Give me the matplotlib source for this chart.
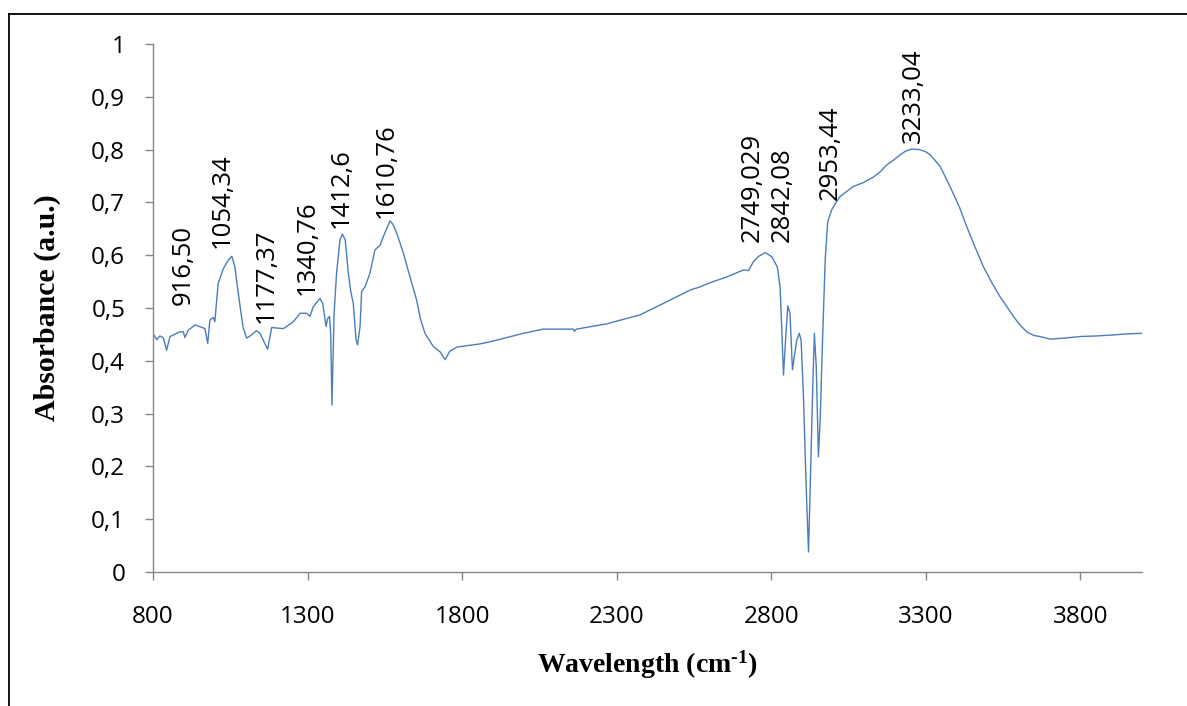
import numpy as np
import matplotlib
matplotlib.use('Agg')
import matplotlib.pyplot as plt
from matplotlib.lines import Line2D

# spectrum
wavenumber = [800, 812, 822, 833, 844, 855, 887, 898, 903, 914, 936, 968, 977, 984, 995,
              1000, 1011, 1028, 1044, 1055, 1065, 1072, 1082, 1092, 1103, 1119, 1135, 1146,
              1162, 1171, 1184, 1222, 1254, 1276, 1297, 1308, 1318, 1340, 1349, 1360, 1365,
              1371, 1375, 1379, 1386, 1394, 1405, 1413, 1422, 1432, 1440, 1448, 1457, 1462,
              1470, 1475, 1486, 1502, 1518, 1535, 1545, 1567, 1578, 1592, 1610, 1630, 1653,
              1665, 1680, 1707, 1729, 1745, 1760, 1783, 1858, 1891, 1998, 2063, 2160, 2164,
              2170, 2268, 2376, 2473, 2538, 2570, 2603, 2657, 2710, 2727, 2743, 2760, 2781,
              2802, 2820, 2829, 2835, 2840, 2848, 2854, 2861, 2869, 2875, 2883, 2891, 2897,
              2905, 2913, 2921, 2928, 2935, 2940, 2946, 2953, 2959, 2967, 2975, 2983, 2996,
              3010, 3023, 3045, 3066, 3100, 3131, 3153, 3174, 3196, 3217, 3235, 3255, 3280,
              3300, 3315, 3347, 3379, 3410, 3433, 3460, 3487, 3515, 3541, 3560, 3584, 3605,
              3627, 3650, 3670, 3703, 3750, 3800, 3850, 3908, 3950, 4000]
absorbance = [0.452, 0.440, 0.447, 0.444, 0.420, 0.446, 0.455, 0.455, 0.444, 0.458, 0.468,
              0.461, 0.433, 0.477, 0.482, 0.474, 0.547, 0.575, 0.591, 0.598, 0.578, 0.545,
              0.502, 0.462, 0.443, 0.449, 0.457, 0.452, 0.433, 0.422, 0.463, 0.461, 0.474,
              0.490, 0.490, 0.484, 0.502, 0.518, 0.509, 0.465, 0.480, 0.484, 0.452, 0.316,
              0.490, 0.566, 0.629, 0.640, 0.629, 0.566, 0.531, 0.509, 0.440, 0.430, 0.465,
              0.531, 0.540, 0.566, 0.610, 0.619, 0.635, 0.665, 0.657, 0.636, 0.604, 0.562,
              0.515, 0.480, 0.452, 0.427, 0.417, 0.402, 0.418, 0.426, 0.432, 0.436, 0.452,
              0.460, 0.460, 0.456, 0.460, 0.470, 0.487, 0.515, 0.534, 0.540, 0.548, 0.559,
              0.572, 0.571, 0.588, 0.598, 0.605, 0.597, 0.578, 0.540, 0.452, 0.373, 0.452,
              0.504, 0.490, 0.383, 0.408, 0.439, 0.452, 0.439, 0.326, 0.168, 0.038, 0.199,
              0.357, 0.452, 0.389, 0.218, 0.294, 0.452, 0.591, 0.663, 0.686, 0.700, 0.711,
              0.721, 0.730, 0.738, 0.748, 0.758, 0.771, 0.780, 0.790, 0.797, 0.801, 0.800,
              0.796, 0.790, 0.768, 0.730, 0.690, 0.654, 0.615, 0.578, 0.547, 0.521, 0.505,
              0.484, 0.468, 0.455, 0.448, 0.446, 0.441, 0.443, 0.446, 0.447, 0.449, 0.451,
              0.452]

# peak labels (text, x, y of the label base)
peak_labels = ['916,50', '1054,34', '1177,37', '1340,76', '1412,6', '1610,76',
               '2749,029', '2842,08', '2953,44', '3233,04']
peak_x = [897, 1023, 1166, 1298, 1408, 1554, 2739, 2836, 2991, 3260]
peak_y = [0.506, 0.614, 0.472, 0.525, 0.652, 0.670, 0.625, 0.625, 0.705, 0.8125]

x_ticks = [800, 1300, 1800, 2300, 2800, 3300, 3800]
y_ticks = [0, 0.1, 0.2, 0.3, 0.4, 0.5, 0.6, 0.7, 0.8, 0.9, 1]
y_tick_labels = ['0', '0,1', '0,2', '0,3', '0,4', '0,5', '0,6', '0,7', '0,8', '0,9', '1']

plt.rcParams['font.family'] = ['Open Sans', 'DejaVu Sans']
plt.rcParams['mathtext.fontset'] = 'custom'
plt.rcParams['mathtext.rm'] = 'Liberation Serif:bold'
plt.rcParams['mathtext.default'] = 'rm'

fig = plt.figure(figsize=(11.87, 7.06), dpi=100)
ax = fig.add_axes([153 / 1187, 1 - 572 / 706, (1142 - 153) / 1187, (572 - 44) / 706])

ax.plot(wavenumber, absorbance, color='#4a7ebb', lw=1.0)

for txt, px, py in zip(peak_labels, peak_x, peak_y):
    ax.text(px, py, txt, rotation=90, ha='center', va='bottom', fontsize=18.5, color='black')

ax.set_xlim(800, 4000)
ax.set_ylim(0, 1)
ax.set_xticks(x_ticks)
ax.set_yticks(y_ticks)
ax.set_yticklabels(y_tick_labels)

for s in ['top', 'right']:
    ax.spines[s].set_visible(False)
for s in ['left', 'bottom']:
    ax.spines[s].set_color('#868686')
    ax.spines[s].set_linewidth(1.0)
ax.tick_params(axis='both', colors='#868686', labelcolor='black', labelsize=17.5,
               length=6, width=1.0, direction='out')
ax.tick_params(axis='y', pad=14)
ax.tick_params(axis='x', pad=18)

ax.set_xlabel(r'Wavelength (cm$^{\text{-}1}$)', fontfamily='Liberation Serif', fontweight='bold',
              fontsize=20, labelpad=14)
ax.set_ylabel('Absorbance (a.u.)', fontfamily='Liberation Serif', fontweight='bold',
              fontsize=21.5)
ax.yaxis.set_label_coords(-0.093, 0.5)

# outer frame (left and top edges only visible)
fig.add_artist(Line2D([9.5 / 1187, 9.5 / 1187], [0, 1 - 13.5 / 706], color='black', lw=1.3,
                      transform=fig.transFigure))
fig.add_artist(Line2D([9.5 / 1187, 1], [1 - 13.5 / 706, 1 - 13.5 / 706], color='black', lw=1.3,
                      transform=fig.transFigure))

fig.savefig('out.png', dpi=100)
